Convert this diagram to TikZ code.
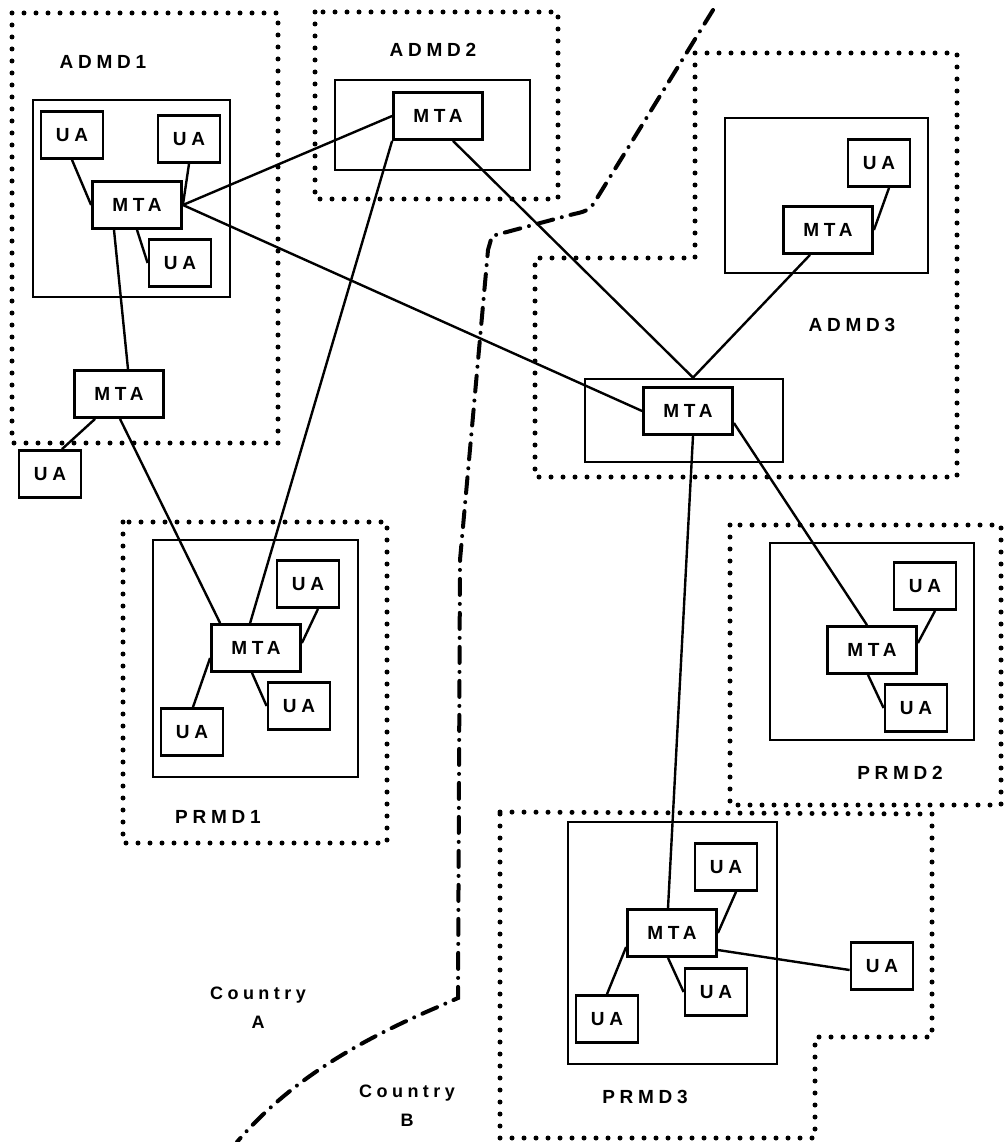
\documentclass[tikz,border=0pt]{standalone}
\usepackage{fontspec}
\newfontfamily\mhsfont[LetterSpace=25]{Liberation Sans}
\begin{document}
\begin{tikzpicture}[
      x=1pt, y=-1pt,
      txt/.style={font=\mhsfont\bfseries\fontsize{19}{30}\selectfont},
      ua/.style={txt, draw, line width=2.8pt, minimum width=62pt, minimum height=47pt, inner sep=0pt},
      mta/.style={ua, minimum width=89pt},
      mdbox/.style={draw, line width=2.8pt, inner sep=0pt},
      mdzone/.style={line width=5pt, dash pattern=on 0pt off 12pt, line cap=round},
      frontier/.style={line width=4pt, dash pattern=on 16pt off 9pt on 0pt off 9pt, line cap=round},
      tag/.style={txt, inner sep=1pt},
      link/.style={line width=2.4pt}
    ]
    \useasboundingbox (0,0) rectangle (1005,1142);

    \draw[mdzone] (12,13) rectangle (278,443);
    \draw[mdzone] (315,12) rectangle (558,199);
    \draw[mdzone] (695,53) -- (957,53) -- (957,477) -- (535,477) -- (535,258) -- (695,258) -- cycle;
    \draw[mdzone] (123,522) rectangle (387,843);
    \draw[mdzone] (730,525) rectangle (1001,805);
    \draw[mdzone] (500,812) -- (932,814) -- (932,1037) -- (815,1037) -- (815,1138) -- (500,1138) -- cycle;

    \draw[frontier] (713,10) -- (594,203) to[out=240,in=15] (570,215) -- (492,236) -- (488,250)
      -- (460,560) -- (458,998) -- (440,1006) .. controls (360,1040) and (290,1080) .. (237,1142);

    \node[tag] (adm1lbl) at (103,62) {ADMD1};
    \node[tag] (adm2lbl) at (433,50) {ADMD2};
    \node[tag] (adm3lbl) at (852,325) {ADMD3};
    \node[tag] (prm1lbl) at (218,817) {PRMD1};
    \node[tag] (prm2lbl) at (900,773) {PRMD2};
    \node[tag] (prm3lbl) at (645,1097) {PRMD3};
    \node[tag, align=center, font=\mhsfont\bfseries\fontsize{18}{29}\selectfont] (ctrya) at (258,1008) {Country\\A};
    \node[tag, align=center, font=\mhsfont\bfseries\fontsize{18}{29}\selectfont] (ctryb) at (407,1106) {Country\\B};

    \node[mdbox, minimum width=197pt, minimum height=197pt] (adm1box) at (131.5,198.5) {};
    \node[ua] (ua11) at (72,135) {UA};
    \node[ua] (ua12) at (189,139) {UA};
    \node[mta] (mta11) at (137,205) {MTA};
    \node[ua] (ua13) at (180,263) {UA};
    \node[mta] (mta12) at (119,394) {MTA};
    \node[ua] (ua14) at (50,474) {UA};

    \node[mdbox, minimum width=195pt, minimum height=90pt] (adm2box) at (432.5,125) {};
    \node[mta] (mta2) at (438,116) {MTA};

    \node[mdbox, minimum width=203pt, minimum height=155pt] (adm3box) at (826.5,195.5) {};
    \node[ua] (ua31) at (879,163) {UA};
    \node[mta] (mta31) at (828,230) {MTA};
    \node[mdbox, minimum width=198pt, minimum height=83pt] (hubbox) at (684,420.5) {};
    \node[mta] (mta32) at (688,411) {MTA};

    \node[mdbox, minimum width=205pt, minimum height=237pt] (prm1box) at (255.5,658.5) {};
    \node[ua] (uap11) at (308,584) {UA};
    \node[mta] (mtap1) at (256,648) {MTA};
    \node[ua] (uap12) at (299,706) {UA};
    \node[ua] (uap13) at (192,732) {UA};

    \node[mdbox, minimum width=204pt, minimum height=197pt] (prm2box) at (872,641.5) {};
    \node[ua] (uap21) at (925,586) {UA};
    \node[mta] (mtap2) at (872,650) {MTA};
    \node[ua] (uap22) at (916,708) {UA};

    \node[mdbox, minimum width=209pt, minimum height=242pt] (prm3box) at (672.5,943) {};
    \node[ua] (uap31) at (726,867) {UA};
    \node[mta] (mtap3) at (672,933) {MTA};
    \node[ua] (uap32) at (716,992) {UA};
    \node[ua] (uap33) at (607,1019) {UA};
    \node[ua] (uap34) at (882,966) {UA};

    \draw[link] (ua11.south) -- (mta11.west);
    \draw[link] (ua12.south) -- (mta11.east);
    \draw[link] (mta11.south) -- (ua13.west);
    \draw[link] ([xshift=-23pt]mta11.south) -- ([xshift=9pt]mta12.north);
    \draw[link] ([xshift=22pt]mta12.south west) -- ([xshift=12pt]ua14.north);
    \draw[link] ([xshift=1pt]mta12.south) -- ([xshift=10pt]mtap1.north west);
    \draw[link] (mta11.east) -- (mta2.west);
    \draw[link] (mta11.east) -- (mta32.west);
    \draw[link] (mta2.south west) -- ([xshift=40pt]mtap1.north west);
    \draw[link] ([xshift=15pt]mta2.south) -- ([xshift=9pt]hubbox.north);
    \draw[link] ([xshift=-18pt]mta31.south) -- ([xshift=9pt]hubbox.north);
    \draw[link] ([xshift=10pt]ua31.south) -- (mta31.east);
    \draw[link] ([xshift=5pt]mta32.south) -- ([xshift=-4pt]mtap3.north);
    \draw[link] ([yshift=-12pt]mta32.east) -- ([xshift=-5pt]mtap2.north);

    \draw[link] ([xshift=10pt]uap11.south) -- ([yshift=5pt]mtap1.east);
    \draw[link] ([xshift=-4pt]mtap1.south) -- (uap12.west);
    \draw[link] ([yshift=-10pt]mtap1.west) -- ([xshift=1pt]uap13.north);

    \draw[link] ([xshift=10pt]uap21.south) -- ([yshift=7pt]mtap2.east);
    \draw[link] ([xshift=-4pt]mtap2.south) -- (uap22.west);

    \draw[link] ([xshift=10pt]uap31.south) -- (mtap3.east);
    \draw[link] ([yshift=-14pt]mtap3.west) -- (uap33.north);
    \draw[link] ([xshift=-4pt]mtap3.south) -- (uap32.west);
    \draw[link] ([yshift=-17pt]mtap3.east) -- ([yshift=-4pt]uap34.west);
  \end{tikzpicture}
\end{document}
